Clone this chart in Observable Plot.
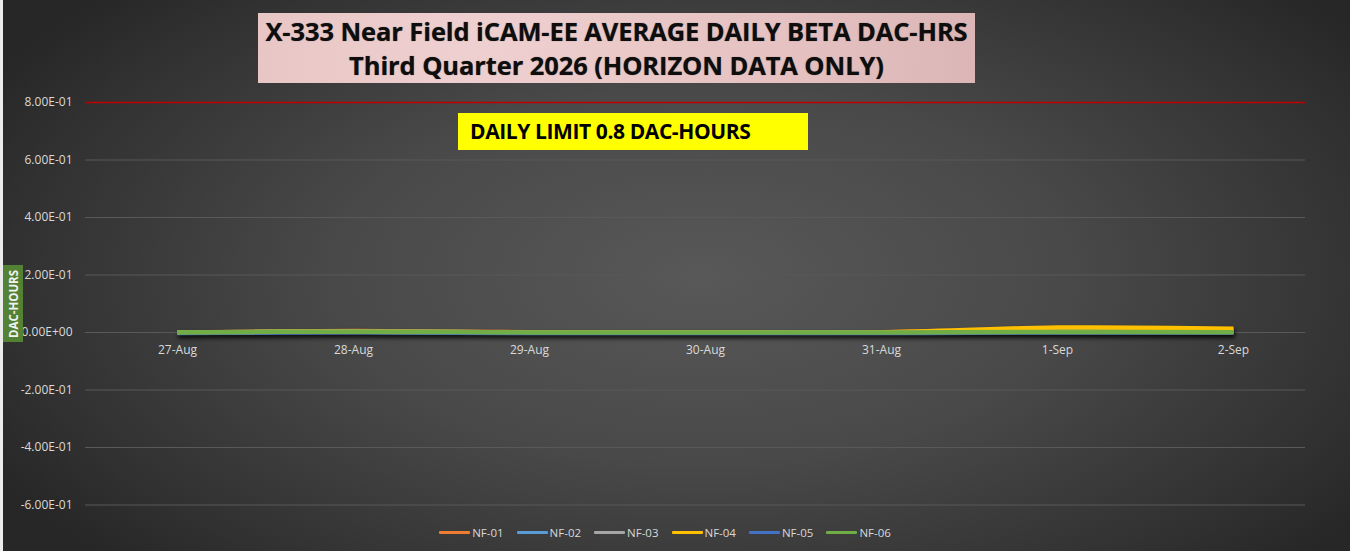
<!DOCTYPE html>
<html>
<head>
<meta charset="utf-8">
<script src="https://cdn.jsdelivr.net/npm/d3@7"></script>
<script src="https://cdn.jsdelivr.net/npm/@observablehq/plot@0.6"></script>
<style>
  html, body { margin: 0; padding: 0; }
  body { width: 1350px; height: 551px; overflow: hidden; }
  #wrap {
    position: relative; width: 1350px; height: 551px;
    background: radial-gradient(ellipse 60% 75% at 52% 50%, #585858 0%, #494949 45%, #313131 85%, #272727 100%);
    font-family: "Open Sans", "DejaVu Sans", sans-serif;
  }
  #leftstrip { position: absolute; left: 0; top: 0; width: 3px; height: 551px; background: #ececec; }
  #chart { position: absolute; left: 0; top: 0; }
  #title {
    position: absolute; left: 258px; top: 13px; width: 717px; height: 70px;
    background: radial-gradient(circle at 30% 40%, #efd0d0 0%, #e6c2c2 60%, #dcb6b6 100%);
    color: #0e0e0e; font-weight: 700; font-size: 25.5px; line-height: 34px;
    text-align: center; padding-top: 1px; box-sizing: border-box;
    font-family: "Open Sans", sans-serif; letter-spacing: -0.1px;
    text-shadow: 0 0 1px rgba(0,0,0,0.5);
  }
  #limit {
    position: absolute; left: 458px; top: 113px; width: 350px; height: 37px;
    background: #ffff00; color: #000; font-weight: 700; font-size: 21px;
    line-height: 37px; padding-left: 12px; box-sizing: border-box;
    font-family: "Open Sans", sans-serif; letter-spacing: -0.4px;
  }
  #ytitle {
    position: absolute; left: 3px; top: 265px; width: 20px; height: 77px;
    background: #548235; color: #f2f2f2;
  }
  #ytitle span {
    position: absolute; left: 50%; top: 50%;
    transform: translate(-50%, -50%) rotate(-90deg);
    font-weight: 700; font-size: 11.5px; white-space: nowrap;
  }
  #legend {
    position: absolute; left: 0; width: 1330px; top: 524px; height: 16px;
    display: flex; justify-content: center; gap: 13px;
    font-size: 11.5px; color: #d9d9d9;
  }
  .item { display: flex; align-items: center; }
  .sw { width: 31px; height: 3px; margin-right: 2px; border-radius: 1px; }
  svg g[aria-label="line"] { filter: drop-shadow(1px 3px 2px rgba(0,0,0,0.85)); }
</style>
</head>
<body>
<div id="wrap">
  <div id="leftstrip"></div>
  <div id="chart"></div>
  <div id="title">X-333 Near Field iCAM-EE AVERAGE DAILY BETA DAC-HRS<br>Third Quarter 2026 (HORIZON DATA ONLY)</div>
  <div id="limit">DAILY LIMIT 0.8 DAC-HOURS</div>
  <div id="ytitle"><span>DAC-HOURS</span></div>
  <div id="legend"></div>
</div>
<script>
// ---- data ----
const dates = ["27-Aug", "28-Aug", "29-Aug", "30-Aug", "31-Aug", "1-Sep", "2-Sep"];
const seriesNames = ["NF-01", "NF-02", "NF-03", "NF-04", "NF-05", "NF-06"];
const nf01 = [0.000, 0.005, 0.001, 0.001, 0.001, 0.011, 0.009];
const nf02 = [0.000, 0.003, 0.000, 0.000, 0.000, 0.004, 0.004];
const nf03 = [0.000, 0.002, 0.000, 0.000, 0.000, 0.002, 0.002];
const nf04 = [0.000, 0.003, 0.000, 0.000, 0.001, 0.017, 0.013];
const nf05 = [-0.002, 0.001, -0.002, -0.002, -0.002, 0.000, 0.000];
const nf06 = [0.000, 0.003, 0.000, 0.000, 0.000, 0.002, 0.001];
const seriesColors = ["#ed7d31", "#5b9bd5", "#a5a5a5", "#ffc000", "#4472c4", "#70ad47"];
const yTicks = [-0.6, -0.4, -0.2, 0, 0.2, 0.4, 0.6, 0.8];
const dailyLimit = [0.8];

const allValues = [nf01, nf02, nf03, nf04, nf05, nf06];
const rows = [];
seriesNames.forEach((name, i) => {
  dates.forEach((d, j) => rows.push({series: name, date: d, value: allValues[i][j]}));
});

function sci(v) {
  if (Math.abs(v) < 1e-12) return "0.00E+00";
  const s = v.toExponential(2);
  const [m, e] = s.split("e");
  const n = parseInt(e, 10);
  const sign = n < 0 ? "-" : "+";
  return m + "E" + sign + String(Math.abs(n)).padStart(2, "0");
}

const chart = Plot.plot({
  width: 1350,
  height: 551,
  marginLeft: 85,
  marginRight: 45,
  marginTop: 102,
  marginBottom: 46.5,
  style: {background: "transparent", fontFamily: "Open Sans, sans-serif", fontSize: "12px", color: "#d9d9d9"},
  x: {type: "point", domain: dates, range: [175, 1235], padding: 0, axis: null},
  y: {domain: [-0.6, 0.8], axis: null},
  color: {domain: seriesNames, range: seriesColors},
  marks: [
    Plot.ruleY(yTicks.filter(t => t !== 0.8), {stroke: "#595959", strokeWidth: 1}),
    Plot.ruleY(dailyLimit, {stroke: "#c00000", strokeWidth: 1.5}),
    Plot.text(yTicks, {y: d => d, frameAnchor: "left", dx: -13, textAnchor: "end", text: d => sci(d), fill: "#d9d9d9", fontSize: 12}),
    Plot.text(dates, {x: d => d, y: 0, dy: 18, text: d => d, fill: "#d9d9d9", fontSize: 12}),
    Plot.line(rows, {x: "date", y: "value", z: "series", stroke: "series", strokeWidth: 4.5, curve: "catmull-rom", strokeLinecap: "butt", strokeLinejoin: "round"})
  ]
});
document.getElementById("chart").appendChild(chart);

// legend
const legend = d3.select("#legend");
seriesNames.forEach((name, i) => {
  const it = legend.append("div").attr("class", "item");
  it.append("div").attr("class", "sw").style("background", seriesColors[i]);
  it.append("span").text(name);
});
</script>
</body>
</html>
